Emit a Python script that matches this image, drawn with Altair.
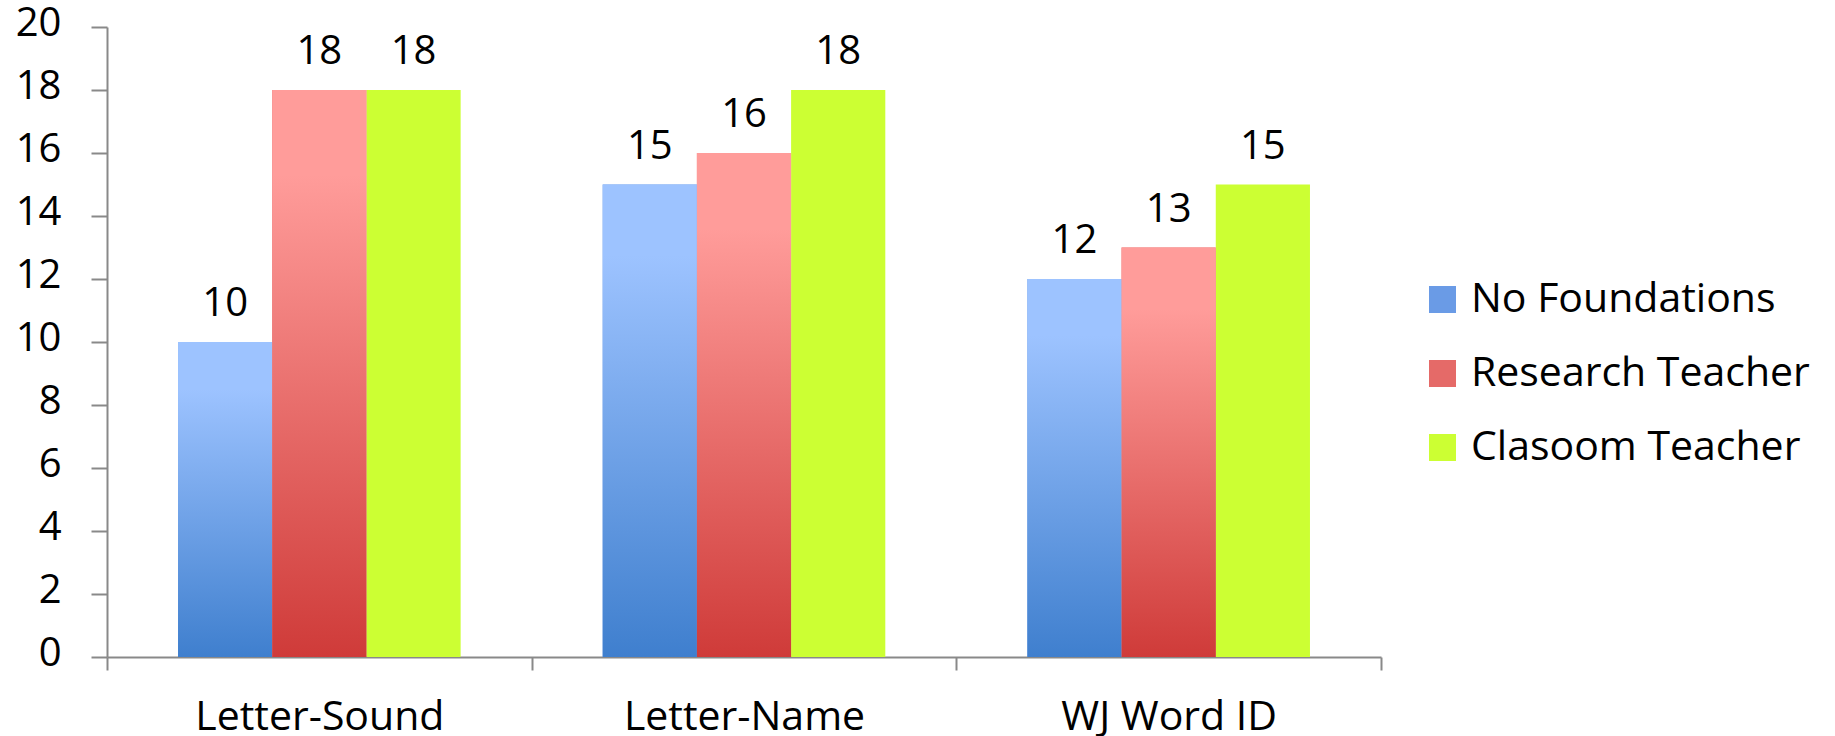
import altair as alt
import pandas as pd

# Scores by measure and group
categories = ["Letter-Sound", "Letter-Name", "WJ Word ID"]
series = ["No Foundations", "Research Teacher", "Clasoom Teacher"]
no_foundations = [10, 15, 12]
research_teacher = [18, 16, 13]
classroom_teacher = [18, 18, 15]

y_ticks = list(range(0, 21, 2))

FONT = "Open Sans"
AXIS_GREY = "#898989"

BLUE_TOP, BLUE_BOTTOM = "#9dc3ff", "#3f7fce"
RED_TOP, RED_BOTTOM = "#ff9c9a", "#cf3b39"
GREEN = "#ccff33"

rows = []
for name, values in zip(series, [no_foundations, research_teacher, classroom_teacher]):
    for cat, v in zip(categories, values):
        rows.append({"measure": cat, "group": name, "score": v})
df = pd.DataFrame(rows)


def grad(top, bottom):
    return alt.Gradient(
        gradient="linear",
        x1=0, x2=0, y1=0, y2=1,
        stops=[
            alt.GradientStop(color=top, offset=0),
            alt.GradientStop(color=top, offset=0.15),
            alt.GradientStop(color=bottom, offset=1),
        ],
    )


x_enc = alt.X(
    "measure:N",
    sort=categories,
    scale=alt.Scale(paddingInner=0, paddingOuter=0),
    axis=alt.Axis(
        title=None,
        labelAngle=0,
        tickBand="extent",
        tickSize=13,
        labelPadding=27,
        labelFontSize=41,
        labelFont=FONT,
        labelColor="black",
        labelLimit=600,
        domainColor=AXIS_GREY,
        domainWidth=2,
        tickColor=AXIS_GREY,
        tickWidth=2,
        grid=False,
    ),
)
# the outer padding of the inner band scale leaves the gap between groups
xoff_enc = alt.XOffset(
    "group:N",
    sort=series,
    scale=alt.Scale(domain=series, paddingInner=0, paddingOuter=0.754),
)
y_enc = alt.Y(
    "score:Q",
    scale=alt.Scale(domain=[0, 20], nice=False),
    axis=alt.Axis(
        title=None,
        values=y_ticks,
        tickSize=16,
        labelPadding=30,
        labelFontSize=40,
        labelFont=FONT,
        labelColor="black",
        labelOffset=-4,
        domainColor=AXIS_GREY,
        domainWidth=2,
        tickColor=AXIS_GREY,
        tickWidth=2,
        grid=False,
    ),
)

base = alt.Chart(df).encode(x=x_enc, xOffset=xoff_enc, y=y_enc)

solid = base.mark_bar().encode(
    color=alt.Color(
        "group:N",
        sort=series,
        scale=alt.Scale(domain=series, range=["#6a9be6", "#e56a68", GREEN]),
        legend=alt.Legend(
            title=None,
            orient="none",
            legendX=1315,
            legendY=252,
            padding=0,
            symbolType="square",
            symbolSize=729,
            symbolStrokeWidth=0,
            labelFontSize=41,
            labelFont=FONT,
            labelColor="black",
            labelOffset=8,
            rowPadding=32,
            labelLimit=600,
        ),
    )
)

blue = base.mark_bar(fill=grad(BLUE_TOP, BLUE_BOTTOM)).transform_filter(
    alt.datum.group == series[0]
)
red = base.mark_bar(fill=grad(RED_TOP, RED_BOTTOM)).transform_filter(
    alt.datum.group == series[1]
)

labels = base.mark_text(
    baseline="alphabetic", dy=-26, fontSize=40, font=FONT, color="black"
).encode(text="score:Q")

chart = (
    alt.layer(solid, blue, red, labels)
    .properties(
        width=1274,
        height=630,
        autosize=alt.AutoSizeParams(type="none"),
        padding={"left": 107, "top": 27, "right": 454, "bottom": 79},
        background="white",
    )
    .configure_view(stroke=None)
)

chart.save("out.html", embed_options={"renderer": "svg", "actions": False})
